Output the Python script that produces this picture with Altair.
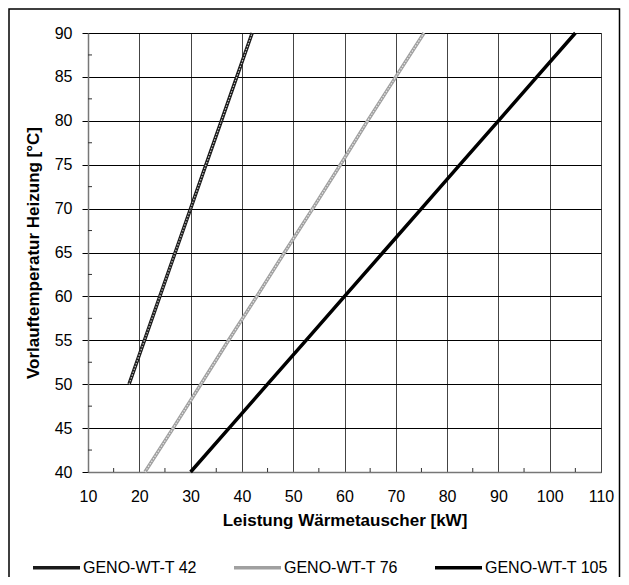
import altair as alt
import pandas as pd

# ---- data ----
series_names = ["GENO-WT-T 42", "GENO-WT-T 76", "GENO-WT-T 105"]
temps_42 = [50, 55, 60, 65, 70, 75, 80, 85, 90]
kw_42 = [18.0, 21.0, 24.0, 27.0, 30.0, 33.0, 36.0, 39.0, 42.0]
temps_76 = [40, 45, 50, 55, 60, 65, 70, 75, 80, 85, 90]
kw_76 = [21.1, 26.6, 32.0, 37.4, 42.9, 48.3, 53.8, 59.2, 64.5, 70.0, 75.5]
temps_105 = [40, 45, 50, 55, 60, 65, 70, 75, 80, 85, 90]
kw_105 = [30.0, 37.5, 45.0, 52.5, 60.0, 67.5, 75.0, 82.5, 90.0, 97.5, 105.0]
x_ticks = [10, 20, 30, 40, 50, 60, 70, 80, 90, 100, 110]
y_ticks = [40, 45, 50, 55, 60, 65, 70, 75, 80, 85, 90]
x_minor = [15, 25, 35, 45, 55, 65, 75, 85, 95, 105]
y_minor = [42.5, 47.5, 52.5, 57.5, 62.5, 67.5, 72.5, 77.5, 82.5, 87.5]

rows = []
for name, ts, ks in [(series_names[0], temps_42, kw_42),
                     (series_names[1], temps_76, kw_76),
                     (series_names[2], temps_105, kw_105)]:
    for i, (t, k) in enumerate(zip(ts, ks)):
        rows.append({"serie": name, "kw": k, "temp": t, "order": i})
df = pd.DataFrame(rows)

W, H = 513, 439
FONT = "Liberation Sans"

xscale = alt.Scale(domain=[10, 110], nice=False, zero=False)
yscale = alt.Scale(domain=[40, 90], nice=False, zero=False)

x_axis = alt.Axis(values=x_ticks, title="Leistung Wärmetauscher [kW]", grid=True,
                  gridColor="#444", gridWidth=1, ticks=False, tickSize=0,
                  labelPadding=16, labelFontSize=16, labelFont=FONT, labelColor="black",
                  titleFont=FONT, titleFontSize=17, titleFontWeight="bold",
                  titleColor="black", titlePadding=8, domainColor="#777",
                  domainWidth=1.5, labelFlush=False)
y_axis = alt.Axis(values=y_ticks, title="Vorlauftemperatur Heizung [°C]", grid=True,
                  gridColor="black", gridWidth=1, ticks=True, tickSize=6,
                  tickColor="black", labelPadding=10, labelFontSize=16,
                  labelFont=FONT, labelColor="black", titleFont=FONT,
                  titleFontSize=17, titleFontWeight="bold", titleColor="black",
                  titlePadding=12, domainColor="#777", domainWidth=1.5,
                  labelFlush=False)

color_scale = alt.Scale(domain=series_names, range=["#1a1a1a", "#a0a0a0", "#000000"])

lines = alt.Chart(df).mark_line(strokeWidth=3.5, strokeCap="butt").encode(
    x=alt.X("kw:Q", scale=xscale, axis=x_axis),
    y=alt.Y("temp:Q", scale=yscale, axis=y_axis),
    color=alt.Color("serie:N", scale=color_scale, sort=series_names,
                    legend=alt.Legend(title=None, orient="none", legendX=-57, legendY=509,
                                      direction="horizontal", columns=3, gridAlign="all",
                                      columnPadding=21, symbolType="stroke",
                                      symbolSize=2209, symbolStrokeWidth=3.5,
                                      labelFontSize=16, labelFont=FONT,
                                      labelColor="black", labelOffset=1, labelLimit=0)),
    order="order:Q",
)

df_pat = df[df["serie"] != series_names[2]]
overlay = alt.Chart(df_pat).mark_line(strokeWidth=1.2, strokeDash=[1.5, 1.5],
                                      color="white", opacity=0.75).encode(
    x=alt.X("kw:Q", scale=xscale, axis=x_axis),
    y=alt.Y("temp:Q", scale=yscale, axis=y_axis),
    detail="serie:N",
    order="order:Q",
)

xm = alt.Chart(pd.DataFrame({"kw": x_minor})).mark_rule(color="#333", strokeWidth=1).encode(
    x=alt.X("kw:Q", scale=xscale, axis=x_axis),
    y=alt.value(H), y2=alt.value(H - 4),
)
ym = alt.Chart(pd.DataFrame({"temp": y_minor})).mark_rule(color="#333", strokeWidth=1).encode(
    y=alt.Y("temp:Q", scale=yscale, axis=y_axis),
    x=alt.value(0), x2=alt.value(4),
)

border = alt.Chart(pd.DataFrame({"a": [0]})).mark_rect(
    fill=None, stroke="black", strokeWidth=1.5).encode(
    x=alt.value(-79), x2=alt.value(531.5), y=alt.value(-24), y2=alt.value(570),
)

chart = alt.layer(lines, overlay, xm, ym, border).properties(
    width=W, height=H,
    autosize=alt.AutoSizeParams(type="none"),
    padding={"left": 80, "top": 25, "right": 20, "bottom": 105},
    background="white",
).configure_view(stroke="#999", strokeWidth=1)

chart.save("out.html", embed_options={"renderer": "svg", "actions": False})
